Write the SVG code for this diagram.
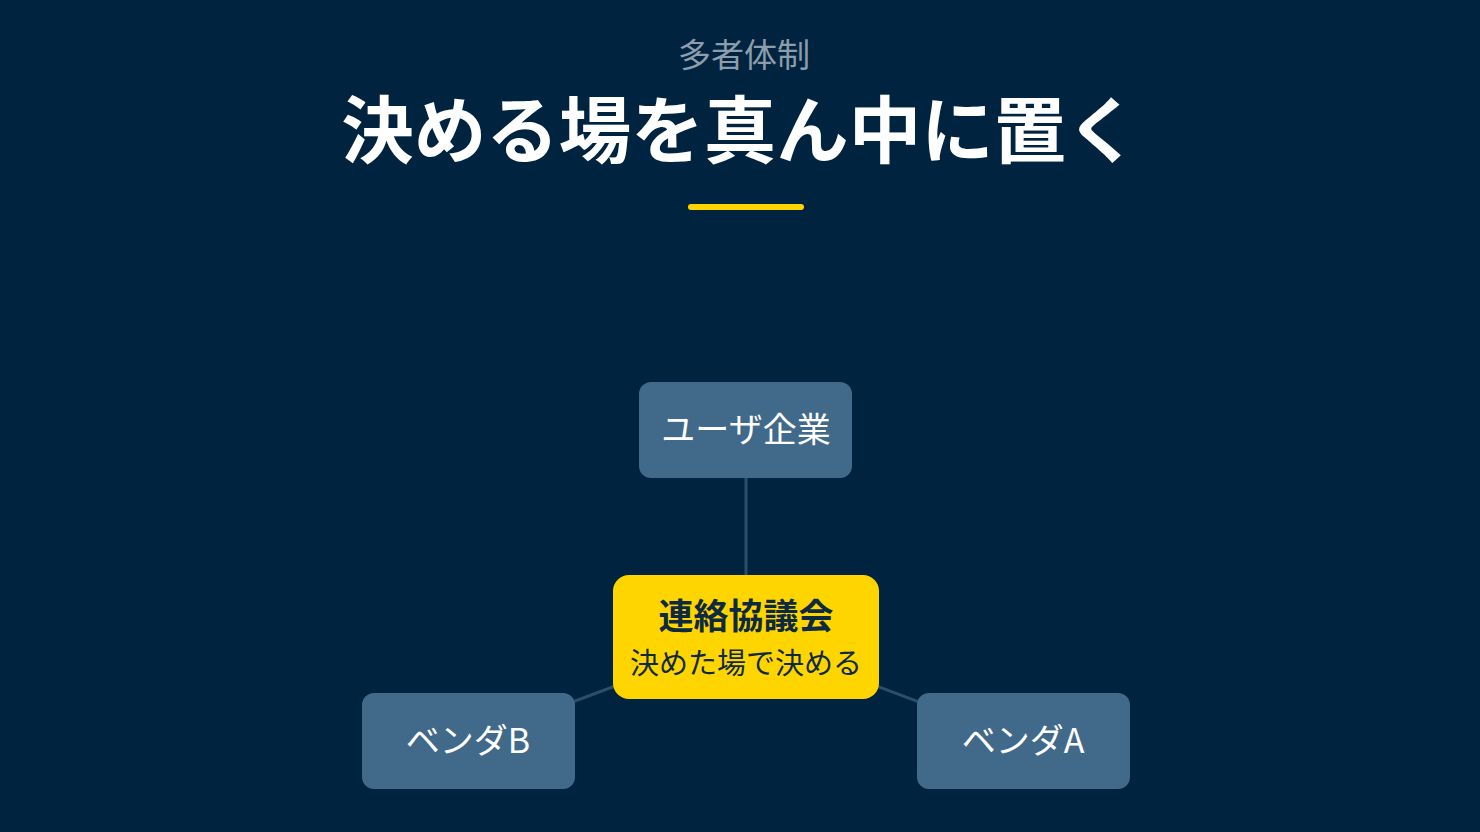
<svg xmlns="http://www.w3.org/2000/svg" width="1480" height="832" viewBox="0 0 1480 832">
<style>
.bg{fill:#00243F}
.node{fill:#416A8A}
.hub{fill:#FFD500}
.edge{stroke:#2B4E6C;stroke-width:3;fill:none}
text{font-family:"Noto Sans CJK JP","Noto Sans",sans-serif;text-anchor:middle}
.lbl{fill:#FFFFFF;font-size:34px}
.hubt{fill:#0E2A40;font-size:35px;font-weight:bold}
.hubs{fill:#0E2A40;font-size:29px}
</style>
<rect class="bg" x="0" y="0" width="1480" height="832"/>
<text x="744" y="67" style="fill:#8D9DAC;font-size:33px">多者体制</text>
<text x="740" y="157" style="fill:#FFFFFF;font-size:72.5px;font-weight:bold">決める場を真ん中に置く</text>
<rect x="688" y="204" width="116" height="6" rx="3" fill="#FFD500"/>
<g id="connectors">
<line class="edge" x1="746" y1="478" x2="746" y2="575"/>
<line class="edge" x1="746" y1="637" x2="468" y2="741"/>
<line class="edge" x1="746" y1="637" x2="1023" y2="741"/>
</g>
<g id="user">
<rect class="node" x="639" y="382" width="213" height="96" rx="12"/>
<text class="lbl" x="746" y="442">ユーザ企業</text>
</g>
<g id="council">
<rect class="hub" x="613" y="575" width="266" height="124" rx="16"/>
<text class="hubt" x="746" y="629">連絡協議会</text>
<text class="hubs" x="746" y="674">決めた場で決める</text>
</g>
<g id="vendorB">
<rect class="node" x="362" y="693" width="213" height="96" rx="12"/>
<text class="lbl" x="468" y="753">ベンダB</text>
</g>
<g id="vendorA">
<rect class="node" x="917" y="693" width="213" height="96" rx="12"/>
<text class="lbl" x="1023" y="753">ベンダA</text>
</g>
</svg>
